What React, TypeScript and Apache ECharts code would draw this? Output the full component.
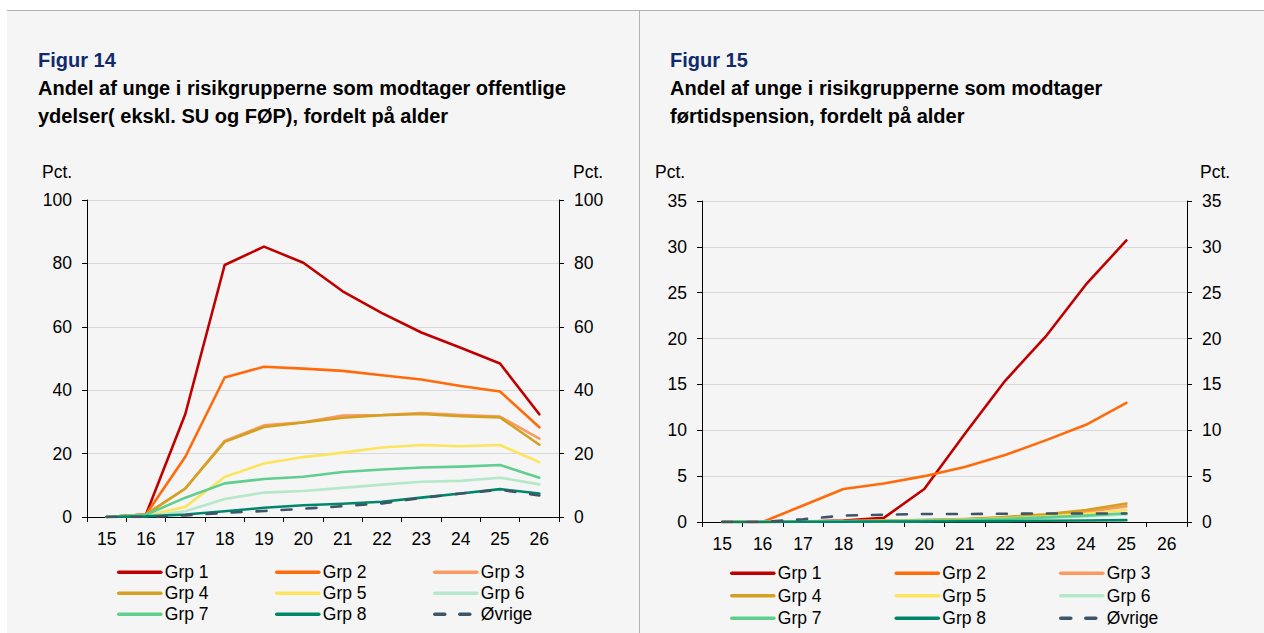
import React, { useEffect, useRef } from "react";
import * as echarts from "echarts";

const ages = ["15", "16", "17", "18", "19", "20", "21", "22", "23", "24", "25", "26"];
const seriesNames = ["Grp 1", "Grp 2", "Grp 3", "Grp 4", "Grp 5", "Grp 6", "Grp 7", "Grp 8", "Øvrige"];
const seriesColors = ["#c00000", "#ff6a0a", "#fa9a60", "#d4a020", "#fce45c", "#b5e8c9", "#5fce8e", "#00876a", "#3d5566"];

// Figur 14 – andel (pct.) der modtager offentlige ydelser, alder 15–26
const f14Grp1 = [0, 0.8, 32.5, 79.5, 85.3, 80.2, 71.2, 64.3, 58.2, 53.4, 48.4, 32.4];
const f14Grp2 = [0, 0.8, 19, 44, 47.4, 46.8, 46.1, 44.7, 43.4, 41.3, 39.6, 28.3];
const f14Grp3 = [0, 0.8, 9, 24, 28.9, 29.9, 32, 32.2, 32.8, 32.2, 31.7, 24.7];
const f14Grp4 = [0, 0.8, 9, 23.7, 28.4, 29.8, 31.3, 32.1, 32.5, 31.8, 31.4, 22.8];
const f14Grp5 = [0, 0.5, 3.2, 12.6, 16.9, 18.9, 20.3, 21.9, 22.7, 22.3, 22.7, 17.3];
const f14Grp6 = [0, 0.3, 1.8, 5.7, 7.7, 8.2, 9.2, 10.2, 11.1, 11.4, 12.4, 10.3];
const f14Grp7 = [0, 0.7, 6.1, 10.6, 12.0, 12.7, 14.2, 15.0, 15.6, 15.9, 16.4, 12.4];
const f14Grp8 = [0, 0.2, 0.8, 1.8, 2.9, 3.7, 4.2, 4.8, 6.1, 7.4, 8.8, 7.4];
const f14Ovrige = [0, 0, 0.5, 1.3, 1.9, 2.6, 3.4, 4.3, 6.0, 7.4, 8.6, 6.8];

// Figur 15 – andel (pct.) på førtidspension, alder 15–25
const f15Grp1 = [0, 0, 0.05, 0.15, 0.45, 3.6, 9.6, 15.4, 20.2, 25.9, 30.7];
const f15Grp2 = [0, 0, 1.8, 3.6, 4.2, 5.0, 6.0, 7.3, 8.9, 10.6, 13.0];
const f15Grp3 = [0, 0, 0.05, 0.1, 0.12, 0.2, 0.3, 0.45, 0.7, 1.1, 1.7];
const f15Grp4 = [0, 0, 0.05, 0.07, 0.15, 0.2, 0.33, 0.55, 0.85, 1.3, 2.0];
const f15Grp5 = [0, 0, 0.03, 0.08, 0.1, 0.15, 0.25, 0.4, 0.6, 0.9, 1.3];
const f15Grp6 = [0, 0, 0.02, 0.05, 0.08, 0.12, 0.2, 0.3, 0.45, 0.6, 0.8];
const f15Grp7 = [0, 0, 0.02, 0.05, 0.1, 0.15, 0.2, 0.35, 0.5, 0.7, 0.95];
const f15Grp8 = [0, 0, 0.02, 0.03, 0.05, 0.06, 0.08, 0.1, 0.13, 0.16, 0.2];
const f15Ovrige = [0, 0, 0.3, 0.7, 0.8, 0.87, 0.87, 0.9, 0.93, 0.93, 0.93];

const f14Data = [f14Grp1, f14Grp2, f14Grp3, f14Grp4, f14Grp5, f14Grp6, f14Grp7, f14Grp8, f14Ovrige];
const f15Data = [f15Grp1, f15Grp2, f15Grp3, f15Grp4, f15Grp5, f15Grp6, f15Grp7, f15Grp8, f15Ovrige];

const f14Title = ["Figur 14", "Andel af unge i risikgrupperne som modtager offentlige", "ydelser( ekskl. SU og FØP), fordelt på alder"];
const f15Title = ["Figur 15", "Andel af unge i risikgrupperne som modtager", "førtidspension, fordelt på alder"];

const FONT = '"Liberation Sans", Arial, sans-serif';
const FS = 17.5;

function makeSeries(data: number[][], axisIdx: number) {
  return data.map((d, i) => ({
    name: seriesNames[i],
    type: "line",
    xAxisIndex: axisIdx,
    yAxisIndex: axisIdx * 2,
    data: d,
    symbol: "none",
    showSymbol: false,
    smooth: false,
    lineStyle: {
      color: seriesColors[i],
      width: 2.6,
      cap: "round",
      join: "round",
      type: i === 8 ? [10, 15] : "solid",
    },
    itemStyle: { color: seriesColors[i] },
    emphasis: { disabled: true },
  }));
}

function xAxis(gridIndex: number) {
  return {
    gridIndex,
    type: "category",
    data: ages,
    boundaryGap: true,
    axisLine: { show: true, lineStyle: { color: "#000", width: 1 } },
    axisTick: { show: true, length: 5, interval: 0, lineStyle: { color: "#000" } },
    axisLabel: { color: "#000", fontSize: FS, fontFamily: FONT, margin: 13, interval: 0 },
    splitLine: { show: false },
  };
}

function yAxis(gridIndex: number, max: number, interval: number, position: string, grid: boolean) {
  return {
    gridIndex,
    type: "value",
    min: 0,
    max,
    interval,
    position,
    axisLine: { show: true, lineStyle: { color: "#000", width: 1 } },
    axisTick: { show: true, length: 5, lineStyle: { color: "#000" } },
    axisLabel: { color: "#000", fontSize: FS, fontFamily: FONT, margin: 15 },
    splitLine: { show: grid, lineStyle: { color: "#d9d9d9", width: 1 } },
  };
}

function legends(x0: number, colGap: number, rowTop: number, rowGap: number) {
  const cols = [
    ["Grp 1", "Grp 4", "Grp 7"],
    ["Grp 2", "Grp 5", "Grp 8"],
    ["Grp 3", "Grp 6", "Øvrige"],
  ];
  return cols.map((c, i) => ({
    left: x0 + i * colGap,
    top: rowTop - FS / 2,
    orient: "vertical",
    padding: 0,
    itemWidth: 42,
    itemHeight: 14,
    itemGap: rowGap - FS,
    selectedMode: false,
    data: c,
    itemStyle: { opacity: 0, borderWidth: 0 },
    lineStyle: { width: 3.6, cap: "round" },
    textStyle: { color: "#000", fontSize: FS, fontFamily: FONT, lineHeight: FS, padding: [0, 0, 0, -1] },
  }));
}

function titleTexts(x: number, lines: string[]) {
  const ys = [60, 88, 116];
  return lines.map((t, i) => ({
    type: "text",
    x,
    y: ys[i],
    silent: true,
    style: {
      text: t,
      fill: i === 0 ? "#102a6b" : "#000",
      fontSize: 20,
      fontWeight: "bold",
      fontFamily: FONT,
      verticalAlign: "middle",
      align: "left",
    },
  }));
}

function pct(x: number) {
  return {
    type: "text",
    x,
    y: 172,
    silent: true,
    style: { text: "Pct.", fill: "#000", fontSize: FS, fontFamily: FONT, verticalAlign: "middle", align: "left" },
  };
}

export default function App() {
  const ref = useRef<HTMLDivElement>(null);

  useEffect(() => {
    if (!ref.current) return;
    const chart = echarts.init(ref.current, undefined, { renderer: "svg" });
    chart.setOption({
      animation: false,
      backgroundColor: "transparent",
      textStyle: { fontFamily: FONT },
      grid: [
        { left: 87, top: 200, width: 472, height: 317, containLabel: false },
        { left: 702, top: 201, width: 485, height: 321, containLabel: false },
      ],
      xAxis: [xAxis(0), xAxis(1)],
      yAxis: [
        yAxis(0, 100, 20, "left", true),
        yAxis(0, 100, 20, "right", false),
        yAxis(1, 35, 5, "left", true),
        yAxis(1, 35, 5, "right", false),
      ],
      legend: [...legends(117, 158, 572, 20.5), ...legends(730, 164.5, 573, 22)],
      series: [...makeSeries(f14Data, 0), ...makeSeries(f15Data, 1)],
      graphic: [
        ...titleTexts(38, f14Title),
        ...titleTexts(670, f15Title),
        pct(42),
        pct(573),
        pct(655),
        pct(1200),
      ],
    });
    return () => chart.dispose();
  }, []);

  return (
    <div style={{ position: "fixed", left: 0, top: 0, width: 1264, height: 633, background: "#fff", overflow: "hidden" }}>
      <div style={{ position: "absolute", left: 7, top: 10, width: 1257, height: 623, background: "#f5f5f5", borderTop: "1px solid #b3b3b3", boxSizing: "border-box" }} />
      <div style={{ position: "absolute", left: 639, top: 10, width: 1, height: 623, background: "#b3b3b3" }} />
      <div ref={ref} style={{ position: "absolute", left: 0, top: 0, width: 1264, height: 633 }} />
    </div>
  );
}
